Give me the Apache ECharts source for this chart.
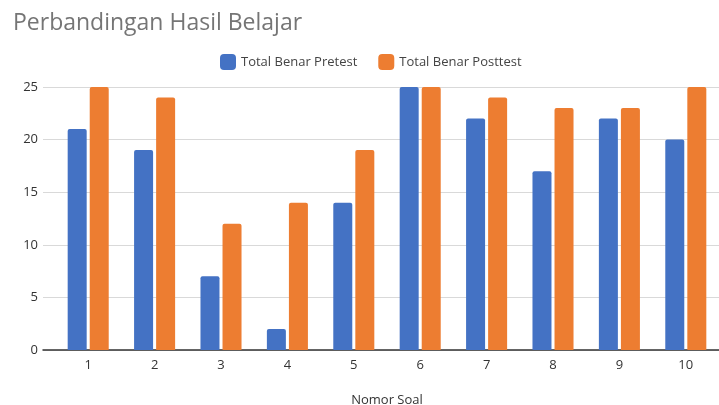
<!DOCTYPE html>
<html>
<head>
<meta charset="utf-8">
<script src="https://cdn.jsdelivr.net/npm/echarts@6/dist/echarts.min.js"></script>
<style>html,body{margin:0;padding:0;background:#fff}#c{width:719px;height:405px}</style>
</head>
<body>
<div id="c"></div>
<script>
const categories = ['1','2','3','4','5','6','7','8','9','10'];
const pretest = [21,19,7,2,14,25,22,17,22,20];
const posttest = [25,24,12,14,19,25,24,23,23,25];
const seriesNames = ['Total Benar Pretest','Total Benar Posttest'];
const titleText = 'Perbandingan Hasil Belajar';
const xName = 'Nomor Soal';

const chart = echarts.init(document.getElementById('c'), null, {renderer:'canvas', width:719, height:405});
const font = '"Open Sans", "Noto Sans", sans-serif';
chart.setOption({
  animation:false,
  textStyle:{fontFamily:font},
  title:{text:titleText,left:8,top:7,textStyle:{fontFamily:font,fontSize:23,fontWeight:'normal',color:'#757575'}},
  legend:{top:49,left:215,itemWidth:16,itemHeight:16,itemGap:21,icon:'roundRect',
    textStyle:{fontFamily:font,fontSize:13,color:'#444'}},
  color:['#4472C4','#ED7D31'],
  grid:[
    {left:43,right:0,top:87,height:263,containLabel:false,outerBoundsMode:'none'},
    {left:55,right:0,top:87,height:263,containLabel:false,outerBoundsMode:'none'}
  ],
  xAxis:[
    {gridIndex:0,type:'category',data:categories,
     axisLine:{show:true,lineStyle:{color:'#333',width:1.5}},axisTick:{show:false},axisLabel:{show:false},splitLine:{show:false}},
    {gridIndex:1,type:'category',data:categories,name:xName,nameLocation:'middle',nameGap:44,
    nameTextStyle:{fontFamily:font,fontSize:13,color:'#333'},
    axisLine:{show:false},axisTick:{show:false},
    axisLabel:{fontFamily:font,fontSize:13,color:'#333',margin:9}}
  ],
  yAxis:[
    {gridIndex:0,type:'value',min:0,max:25,interval:5,
    axisLine:{show:false},axisTick:{show:false},
    axisLabel:{fontFamily:font,fontSize:13,color:'#333',margin:5},
    splitLine:{lineStyle:{color:'#d9d9d9'}}},
    {gridIndex:1,type:'value',min:0,max:25,interval:5,
    axisLine:{show:false},axisTick:{show:false},axisLabel:{show:false},splitLine:{show:false}}
  ],
  series:[
    {name:seriesNames[0],type:'bar',xAxisIndex:1,yAxisIndex:1,data:pretest,barWidth:19,barGap:'16%',itemStyle:{borderRadius:[2,2,0,0]}},
    {name:seriesNames[1],type:'bar',xAxisIndex:1,yAxisIndex:1,data:posttest,barWidth:19,itemStyle:{borderRadius:[2,2,0,0]}}
  ]
});
</script>
</body>
</html>
